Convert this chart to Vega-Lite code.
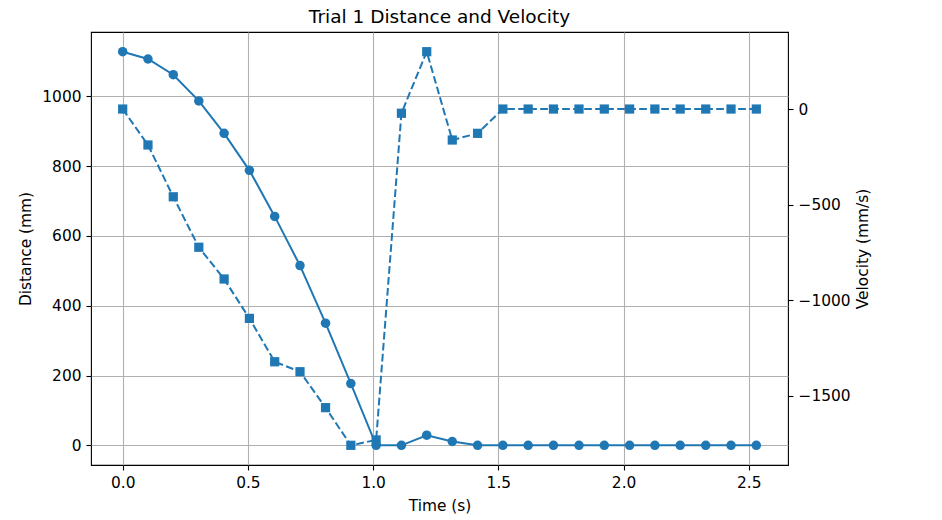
{
  "$schema": "https://vega.github.io/schema/vega-lite/v6.json",
  "autosize": "none",
  "width": 697,
  "height": 433,
  "padding": {"left": 91, "top": 32, "right": 154, "bottom": 55},
  "background": "white",
  "title": {"text": "Trial 1 Distance and Velocity", "font": "DejaVu Sans", "fontSize": 18.5, "fontWeight": "normal", "color": "#000000", "offset": 6, "anchor": "middle"},
  "config": {
    "view": {"stroke": "#000000", "strokeWidth": 1.1},
    "axis": {
      "domain": false,
      "labelFont": "DejaVu Sans", "labelFontSize": 15.4, "labelColor": "#000000",
      "titleFont": "DejaVu Sans", "titleFontSize": 15.4, "titleFontWeight": "normal", "titleColor": "#000000",
      "tickColor": "#000000", "tickWidth": 1.1, "tickSize": 5, "labelPadding": 5,
      "gridColor": "#b0b0b0", "gridWidth": 1.1, "gridOpacity": 1
    }
  },
  "data": {"values": [
    {"t": 0.000, "distance": 1128, "velocity": 0},
    {"t": 0.101, "distance": 1107, "velocity": -188},
    {"t": 0.202, "distance": 1062, "velocity": -459},
    {"t": 0.304, "distance": 987, "velocity": -723},
    {"t": 0.405, "distance": 894, "velocity": -889},
    {"t": 0.506, "distance": 788, "velocity": -1095},
    {"t": 0.607, "distance": 656, "velocity": -1322},
    {"t": 0.708, "distance": 515, "velocity": -1374},
    {"t": 0.810, "distance": 350, "velocity": -1562},
    {"t": 0.911, "distance": 177, "velocity": -1759},
    {"t": 1.012, "distance": 0, "velocity": -1731},
    {"t": 1.113, "distance": 0, "velocity": -22},
    {"t": 1.214, "distance": 29, "velocity": 300},
    {"t": 1.316, "distance": 11, "velocity": -162},
    {"t": 1.417, "distance": 0, "velocity": -127},
    {"t": 1.518, "distance": 0, "velocity": 0},
    {"t": 1.619, "distance": 0, "velocity": 0},
    {"t": 1.720, "distance": 0, "velocity": 0},
    {"t": 1.822, "distance": 0, "velocity": 0},
    {"t": 1.923, "distance": 0, "velocity": 0},
    {"t": 2.024, "distance": 0, "velocity": 0},
    {"t": 2.125, "distance": 0, "velocity": 0},
    {"t": 2.226, "distance": 0, "velocity": 0},
    {"t": 2.328, "distance": 0, "velocity": 0},
    {"t": 2.429, "distance": 0, "velocity": 0},
    {"t": 2.530, "distance": 0, "velocity": 0}
  ]},
  "encoding": {
    "x": {"field": "t", "type": "quantitative",
      "scale": {"domain": [-0.1265, 2.6565], "nice": false, "zero": false},
      "axis": {"title": "Time (s)", "values": [0, 0.5, 1, 1.5, 2, 2.5], "format": ".1f", "grid": true, "titlePadding": 8}}
  },
  "layer": [
    {
      "encoding": {
        "y": {"field": "distance", "type": "quantitative",
          "scale": {"domain": [-56.4, 1184.4], "nice": false, "zero": false},
          "axis": {"title": "Distance (mm)", "orient": "left", "values": [0, 200, 400, 600, 800, 1000], "format": "d", "grid": true, "titlePadding": 8}}
      },
      "layer": [
        {"mark": {"type": "line", "color": "#1f77b4", "strokeWidth": 2}},
        {"mark": {"type": "point", "shape": "circle", "filled": true, "size": 90, "color": "#1f77b4", "opacity": 1}}
      ]
    },
    {
      "encoding": {
        "y": {"field": "velocity", "type": "quantitative",
          "scale": {"domain": [-1862, 403], "nice": false, "zero": false},
          "axis": {"title": "Velocity (mm/s)", "orient": "right", "values": [0, -500, -1000, -1500], "format": "d", "grid": false, "titleAngle": 270, "titlePadding": 20}}
      },
      "layer": [
        {"mark": {"type": "line", "color": "#1f77b4", "strokeWidth": 2, "strokeDash": [7.7, 3.3]}},
        {"mark": {"type": "point", "shape": "square", "filled": true, "size": 85, "color": "#1f77b4", "opacity": 1}}
      ]
    }
  ],
  "resolve": {"scale": {"y": "independent"}}
}
